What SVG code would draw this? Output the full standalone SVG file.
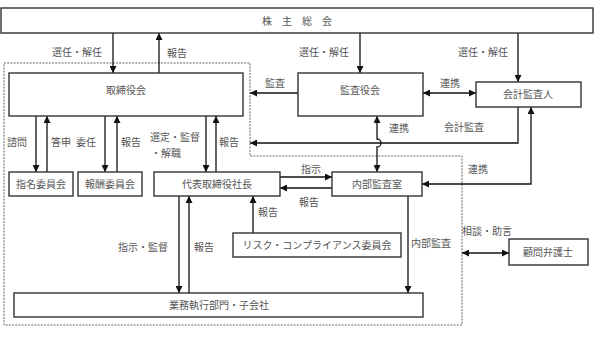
<svg xmlns="http://www.w3.org/2000/svg" width="600" height="338" viewBox="0 0 600 338">
<style>
.box{fill:#fff;stroke:#333;stroke-width:1.4}
.t{font-family:"Noto Sans CJK JP","Noto Sans",sans-serif;font-size:10px;fill:#555;text-anchor:middle}
.c{fill:none;stroke:#111;stroke-width:1.3}
.dash{fill:none;stroke:#555;stroke-width:0.9;stroke-dasharray:2,1.2}
</style>
<defs>
<marker id="ah" markerUnits="userSpaceOnUse" markerWidth="7" markerHeight="7" refX="6" refY="3" orient="auto-start-reverse" viewBox="0 0 6 6">
<path d="M0,0 L6,3 L0,6 z" fill="#111"/>
</marker>
</defs>
<rect width="600" height="338" fill="#fff"/>
<path class="dash" d="M4,63 H250 V156 H462 V325 H4 Z"/>
<g id="connectors">
<path class="c" d="M113,33 V73" marker-end="url(#ah)"/>
<path class="c" d="M159,73 V33" marker-end="url(#ah)"/>
<path class="c" d="M360,33 V73" marker-end="url(#ah)"/>
<path class="c" d="M518,33 V82" marker-end="url(#ah)"/>
<path class="c" d="M298,93 H250" marker-end="url(#ah)"/>
<path class="c" d="M518,107 V143 H250" marker-end="url(#ah)"/>
<path class="c" d="M423,93 H476" marker-start="url(#ah)" marker-end="url(#ah)"/>
<path class="c" d="M377,116 V139 A4,4 0 0 1 377,147 V172" marker-start="url(#ah)" marker-end="url(#ah)"/>
<path class="c" d="M422,184 H531 V107" marker-start="url(#ah)" marker-end="url(#ah)"/>
<path class="c" d="M36,116 V172" marker-end="url(#ah)"/>
<path class="c" d="M47,172 V116" marker-end="url(#ah)"/>
<path class="c" d="M105,116 V172" marker-end="url(#ah)"/>
<path class="c" d="M117,172 V116" marker-end="url(#ah)"/>
<path class="c" d="M206,116 V172" marker-end="url(#ah)"/>
<path class="c" d="M216,172 V116" marker-end="url(#ah)"/>
<path class="c" d="M280,177 H332" marker-end="url(#ah)"/>
<path class="c" d="M332,188 H280" marker-end="url(#ah)"/>
<path class="c" d="M253,233 V196" marker-end="url(#ah)"/>
<path class="c" d="M179,196 V293" marker-end="url(#ah)"/>
<path class="c" d="M189,293 V196" marker-end="url(#ah)"/>
<path class="c" d="M408,196 V293" marker-end="url(#ah)"/>
<path class="c" d="M462,253 H509" marker-start="url(#ah)" marker-end="url(#ah)"/>
</g>
<g id="labels">
<text class="t" x="77" y="56">選任・解任</text>
<text class="t" x="177" y="57">報告</text>
<text class="t" x="324" y="56">選任・解任</text>
<text class="t" x="483" y="56">選任・解任</text>
<text class="t" x="275" y="87">監査</text>
<text class="t" x="450" y="87">連携</text>
<text class="t" x="399" y="132">連携</text>
<text class="t" x="464" y="131">会計監査</text>
<text class="t" x="478" y="173">連携</text>
<text class="t" x="17" y="146">諮問</text>
<text class="t" x="61" y="146">答申</text>
<text class="t" x="86" y="146">委任</text>
<text class="t" x="131" y="146">報告</text>
<text class="t" x="175" y="141">選定・監督</text>
<text class="t" x="166" y="157">・解職</text>
<text class="t" x="229" y="146">報告</text>
<text class="t" x="311" y="173">指示</text>
<text class="t" x="309" y="206">報告</text>
<text class="t" x="268" y="216">報告</text>
<text class="t" x="143" y="251">指示・監督</text>
<text class="t" x="204" y="251">報告</text>
<text class="t" x="431" y="247">内部監査</text>
<text class="t" x="487" y="235">相談・助言</text>
</g>
<g id="n-shareholders"><rect class="box" x="1" y="8" width="592" height="25"/><text class="t" x="297" y="25">株　主　総　会</text></g>
<g id="n-board"><rect class="box" x="9" y="73" width="234" height="43"/><text class="t" x="126" y="94">取締役会</text></g>
<g id="n-auditboard"><rect class="box" x="298" y="73" width="125" height="43"/><text class="t" x="360" y="94">監査役会</text></g>
<g id="n-accountant"><rect class="box" x="476" y="82" width="105" height="25"/><text class="t" x="528" y="98">会計監査人</text></g>
<g id="n-nomination"><rect class="box" x="9" y="172" width="64" height="24"/><text class="t" x="41" y="188">指名委員会</text></g>
<g id="n-compensation"><rect class="box" x="78" y="172" width="64" height="24"/><text class="t" x="110" y="188">報酬委員会</text></g>
<g id="n-president"><rect class="box" x="154" y="172" width="126" height="24"/><text class="t" x="217" y="188">代表取締役社長</text></g>
<g id="n-internalaudit"><rect class="box" x="332" y="172" width="90" height="24"/><text class="t" x="377" y="188">内部監査室</text></g>
<g id="n-risk"><rect class="box" x="233" y="233" width="168" height="24"/><text class="t" x="317" y="249">リスク・コンプライアンス委員会</text></g>
<g id="n-operations"><rect class="box" x="14" y="293" width="409" height="24"/><text class="t" x="219" y="309">業務執行部門・子会社</text></g>
<g id="n-lawyer"><rect class="box" x="509" y="239" width="79" height="26"/><text class="t" x="548" y="256">顧問弁護士</text></g>
</svg>
